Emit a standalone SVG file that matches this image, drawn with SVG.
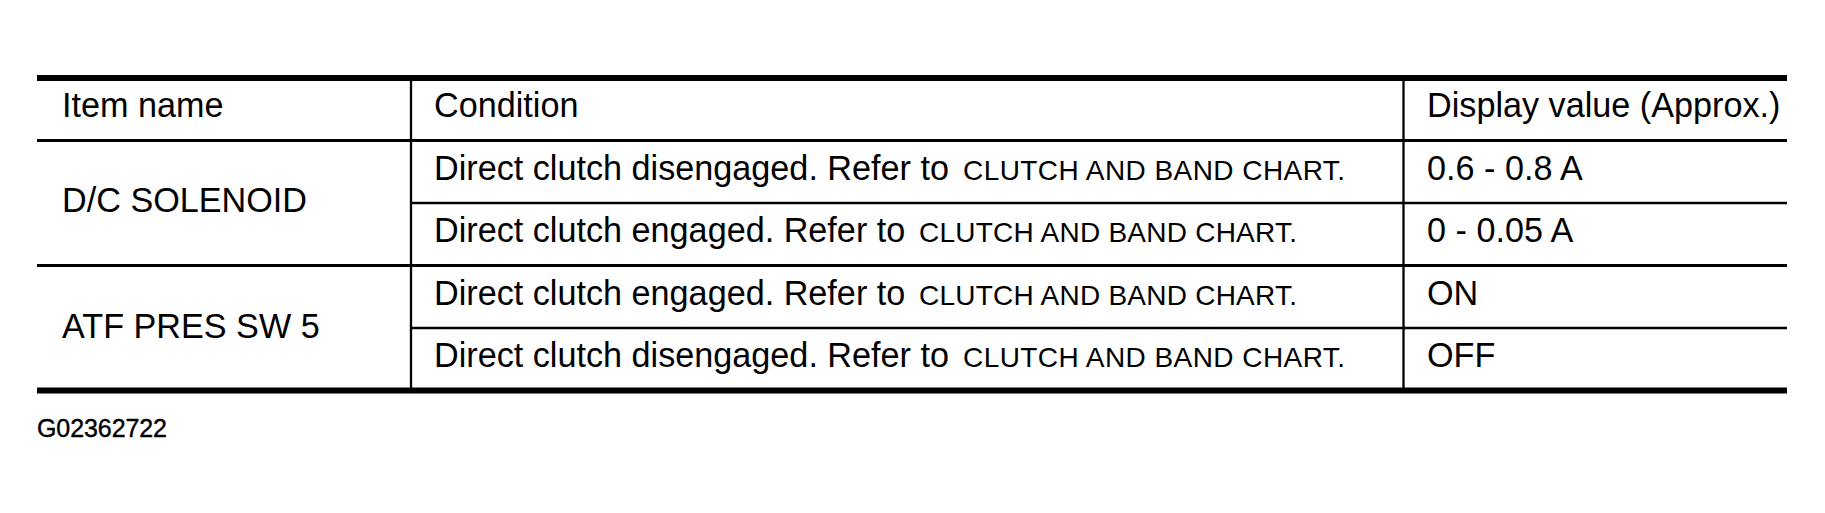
<svg xmlns="http://www.w3.org/2000/svg" width="1825" height="513" viewBox="0 0 1825 513">
<style>
.t{font-family:"Liberation Sans",Arial,Helvetica,sans-serif;font-size:34.2px;fill:#000}
.s{font-family:"Liberation Sans",Arial,Helvetica,sans-serif;font-size:28px;fill:#000}
.id{font-family:"Liberation Sans",Arial,Helvetica,sans-serif;font-size:25px;fill:#000;stroke:#000;stroke-width:0.4}
.thick{stroke:#000;stroke-width:6}
.mid{stroke:#000;stroke-width:3}
.thin{stroke:#000;stroke-width:2.3}
</style>
<rect width="1825" height="513" fill="#fff"/>
<g id="grid">
<line class="thick" x1="37" y1="78" x2="1787" y2="78"/>
<line class="mid" x1="37" y1="140.5" x2="1787" y2="140.5"/>
<line class="thin" x1="411" y1="203" x2="1787" y2="203"/>
<line class="mid" x1="37" y1="265.5" x2="1787" y2="265.5"/>
<line class="thin" x1="411" y1="328" x2="1787" y2="328"/>
<line class="thick" x1="37" y1="390.5" x2="1787" y2="390.5"/>
<line class="thin" x1="411" y1="81" x2="411" y2="388"/>
<line class="thin" x1="1403.5" y1="81" x2="1403.5" y2="388"/>
</g>
<g id="header">
<text class="t" x="62" y="117">Item name</text>
<text class="t" x="434" y="117">Condition</text>
<text class="t" x="1427" y="117">Display value (Approx.)</text>
</g>
<g id="dc-solenoid">
<text class="t" x="62" y="212">D/C SOLENOID</text>
<text class="t" x="434" y="179.5">Direct clutch disengaged. Refer to</text>
<text class="s" x="963" y="179.5" textLength="382">CLUTCH AND BAND CHART.</text>
<text class="t" x="1427" y="179.5">0.6 - 0.8 A</text>
<text class="t" x="434" y="242">Direct clutch engaged. Refer to</text>
<text class="s" x="919" y="242" textLength="378">CLUTCH AND BAND CHART.</text>
<text class="t" x="1427" y="242">0 - 0.05 A</text>
</g>
<g id="atf-pres-sw5">
<text class="t" x="62" y="338">ATF PRES SW 5</text>
<text class="t" x="434" y="304.5">Direct clutch engaged. Refer to</text>
<text class="s" x="919" y="304.5" textLength="378">CLUTCH AND BAND CHART.</text>
<text class="t" x="1427" y="304.5">ON</text>
<text class="t" x="434" y="367">Direct clutch disengaged. Refer to</text>
<text class="s" x="963" y="367" textLength="382">CLUTCH AND BAND CHART.</text>
<text class="t" x="1427" y="367">OFF</text>
</g>
<g id="figure-id">
<text class="id" x="37" y="437" textLength="130">G02362722</text>
</g>
</svg>
